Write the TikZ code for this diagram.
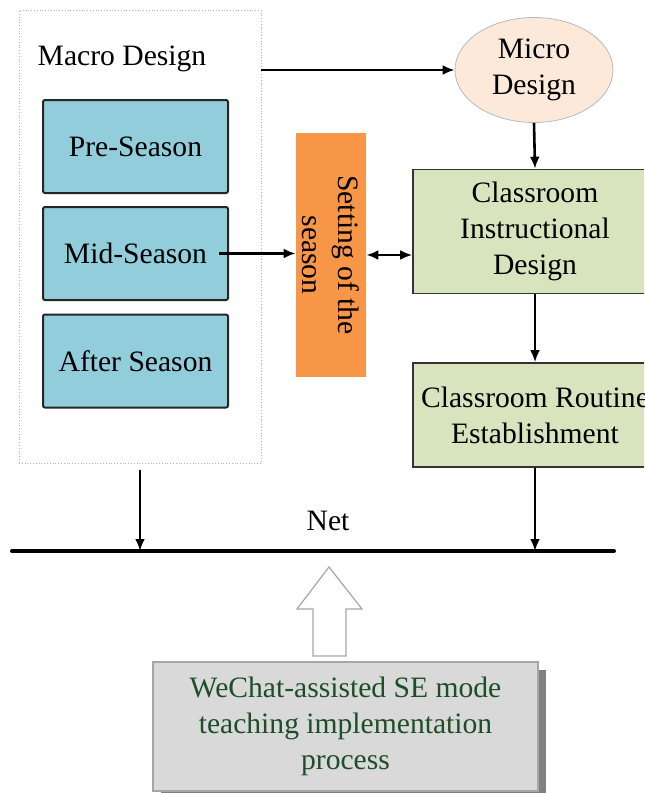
\documentclass[tikz,border=0pt]{standalone}
\usepackage{fontspec}
\setmainfont{Liberation Serif}
\usetikzlibrary{shapes.geometric,shadows,arrows.meta}
\definecolor{seasonblue}{RGB}{146,205,220}
\definecolor{settingorange}{RGB}{247,150,70}
\definecolor{classgreen}{RGB}{215,228,189}
\definecolor{micropeach}{RGB}{253,233,217}
\definecolor{wechatgray}{RGB}{217,217,217}
\definecolor{wechatgreen}{RGB}{30,78,40}
\begin{document}
\begin{tikzpicture}[x=0.5pt, y=-0.5pt, font=\fontsize{14.8}{18}\selectfont,
	seasonbox/.style={draw=black!85, line width=1pt, rounded corners=1pt, fill=seasonblue, minimum width=92.5pt, minimum height=46.5pt, inner sep=0pt},
	classbox/.style={draw=black!80, line width=0.8pt, fill=classgreen, minimum width=122pt, align=center, inner sep=0pt},
	link/.style={-{Latex[length=6pt,width=5pt]}, line width=1.3pt}]
	\useasboundingbox (0,0) rectangle (644,793);
	\clip (0,0) rectangle (644,793);
	
	%Macro design:
	\node (macro) at (140,236.5) [draw=gray!60, densely dotted, line width=0.4pt, minimum width=121pt, minimum height=226.5pt] {};
	\node (macrotitle) at (122,65) [anchor=base] {Macro Design};
	\node (pre) at (135.5,146.5) [seasonbox] {Pre-Season};
	\node (mid) at (135.5,253.5) [seasonbox] {Mid-Season};
	\node (after) at (135.5,361) [seasonbox] {After Season};
	
	\node (setting) at (331,255) [rotate=-90, fill=settingorange, minimum width=122pt, minimum height=35pt, inner sep=0pt, align=center] {Setting of the\\season};
	
	%Micro design:
	\node (micro) at (534,70) [ellipse, draw=gray!55, line width=0.4pt, fill=micropeach, minimum width=79pt, minimum height=52.5pt, inner sep=0pt, align=center] {Micro\\Design};
	\node (cid) at (535,231.5) [classbox, minimum height=62pt] {Classroom\\Instructional\\Design};
	\node (cre) at (535,415) [classbox, minimum height=52pt] {Classroom Routine\\Establishment};
	
	\draw [link] (macro.east |- micro.west) -- (micro.west);
	\draw [link] ([xshift=-5pt]mid.east) -- (mid.east -| setting.south);
	\draw [link, {Latex[length=6pt,width=5pt]}-{Latex[length=6pt,width=5pt]}] (setting.north) -- (setting.north -| cid.west);
	\draw [link] (micro.south) -- (cid.north);
	\draw [link] (cid.south) -- (cre.north);
	
	%Net line:
	\coordinate (netL) at (12,551);
	\coordinate (netR) at (614,551);
	\draw [line width=2pt, line cap=round] (netL) -- (netR);
	\node (netlabel) at (328,530) [anchor=base] {Net};
	\draw [link, shorten <=3.5pt] (macro.south) -- (macro.south |- netL);
	\draw [link] (cre.south) -- (cre.south |- netL);
	
	%WeChat process:
	\draw [fill=white, draw=gray!70, line width=0.6pt] (329,567) -- (362,609) -- (346,609) -- (346,656) -- (313,656) -- (313,609) -- (297,609) -- cycle;
	\node (wechat) at (345.5,726.5) [draw=gray!70, line width=0.6pt, fill=wechatgray, drop shadow={shadow xshift=4pt, shadow yshift=-4pt, fill=black!50, opacity=1}, minimum width=192.5pt, minimum height=64.5pt, inner sep=0pt, align=center, text=wechatgreen] {WeChat-assisted SE mode\\teaching implementation\\process};
\end{tikzpicture}
\end{document}
